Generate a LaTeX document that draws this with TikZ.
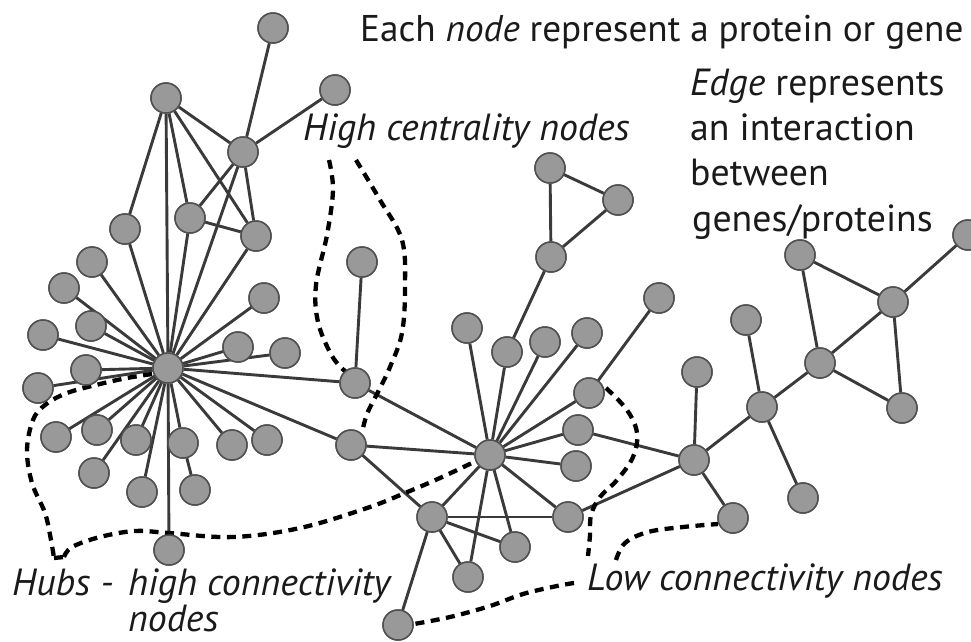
\documentclass[tikz,border=0pt]{standalone}
\usepackage{fontspec}
\setmainfont{PT Sans}
\definecolor{nodefill}{HTML}{999999}
\definecolor{nodeline}{HTML}{505050}
\definecolor{linkcol}{HTML}{3A3A3A}
\definecolor{txtcol}{HTML}{1A1A1A}
\tikzset{
  vtx/.style={circle, draw=nodeline, fill=nodefill, line width=1.5pt,
              minimum size=30pt, inner sep=0pt},
  link/.style={draw=linkcol, line width=2.9pt},
  outline/.style={draw=black, line width=4.3pt, dash pattern=on 9pt off 6.5pt,
                  line cap=butt},
  lbl/.style={anchor=base west, inner sep=0pt, text=txtcol,
              font=\fontsize{37.8}{44}\selectfont}
}
\begin{document}
\begin{tikzpicture}[x=1pt,y=-1pt]
\useasboundingbox (0,0) rectangle (971,641);
\clip (0,0) rectangle (971,641);
\fill[white] (0,0) rectangle (971,641);

% ---- vertices: first hub and its neighbourhood
\node[vtx] (h1) at (168,368) {};
\node[vtx] (t1) at (273,28) {};
\node[vtx] (a)  at (166,98) {};
\node[vtx] (b)  at (335,90) {};
\node[vtx] (c)  at (243,152) {};
\node[vtx] (d)  at (125,229) {};
\node[vtx] (e)  at (190,218) {};
\node[vtx] (f)  at (256,236) {};
\node[vtx] (g1) at (92,262) {};
\node[vtx] (i1) at (64,288) {};
\node[vtx] (j)  at (264,298) {};
\node[vtx] (l1) at (91,326) {};
\node[vtx] (l2) at (43,335) {};
\node[vtx] (l3) at (86,370) {};
\node[vtx] (l4) at (38,388) {};
\node[vtx] (r1) at (238,347) {};
\node[vtx] (r2) at (285,353) {};
\node[vtx] (b1) at (56,437) {};
\node[vtx] (b2) at (97,430) {};
\node[vtx] (b3) at (136,440) {};
\node[vtx] (b4) at (183,443) {};
\node[vtx] (b5) at (232,445) {};
\node[vtx] (b6) at (267,440) {};
\node[vtx] (b7) at (94,473) {};
\node[vtx] (b8) at (142,492) {};
\node[vtx] (b9) at (195,490) {};
\node[vtx] (b10) at (169,550) {};

% ---- bridge vertices
\node[vtx] (k)   at (362,262) {};
\node[vtx] (hc1) at (355,383) {};
\node[vtx] (hc2) at (351,445) {};

% ---- second hub and its neighbourhood
\node[vtx] (h2)  at (490,455) {};
\node[vtx] (u1)  at (467,328) {};
\node[vtx] (u2)  at (507,352) {};
\node[vtx] (u3)  at (545,342) {};
\node[vtx] (u4)  at (587,333) {};
\node[vtx] (u5)  at (589,393) {};
\node[vtx] (u6)  at (578,430) {};
\node[vtx] (u7)  at (576,466) {};
\node[vtx] (u8)  at (568,517) {};
\node[vtx] (u9)  at (515,547) {};
\node[vtx] (u10) at (468,577) {};
\node[vtx] (m1)  at (432,517) {};
\node[vtx] (v)   at (398,625) {};
\node[vtx] (tr1) at (550,168) {};
\node[vtx] (tr2) at (618,200) {};
\node[vtx] (tr3) at (551,257) {};
\node[vtx] (w)   at (659,298) {};

% ---- right-hand branch
\node[vtx] (mm) at (694,460) {};
\node[vtx] (m2) at (697,372) {};
\node[vtx] (m3) at (733,518) {};
\node[vtx] (nn) at (762,407) {};
\node[vtx] (n1) at (746,320) {};
\node[vtx] (n2) at (803,498) {};
\node[vtx] (pp) at (820,363) {};
\node[vtx] (p1) at (800,255) {};
\node[vtx] (qq) at (893,302) {};
\node[vtx] (q1) at (968,235) {};
\node[vtx] (q2) at (902,408) {};

% ---- interactions
\foreach \s/\t in {h1/a,h1/c,h1/d,h1/e,h1/f,h1/g1,h1/i1,h1/j,h1/l1,h1/l2,h1/l3,h1/l4,
                   h1/r1,h1/r2,h1/b1,h1/b2,h1/b3,h1/b4,h1/b5,h1/b6,h1/b7,h1/b8,h1/b10,
                   h1/hc1,h1/hc2,b4/b9,
                   a/d,a/e,a/f,a/c,c/t1,c/b,c/e,c/f,e/f,
                   hc1/k,hc1/h2,hc2/h2,hc2/m1,
                   h2/u1,h2/u2,h2/u3,h2/u4,h2/u5,h2/u6,h2/u7,h2/u8,h2/u9,h2/u10,h2/m1,
                   m1/u8,m1/u9,m1/u10,m1/v,u2/tr3,u5/w,u6/mm,u8/mm,
                   tr1/tr2,tr1/tr3,tr2/tr3,
                   mm/m2,mm/m3,mm/nn,nn/n1,nn/n2,nn/pp,pp/p1,pp/qq,pp/q2,p1/qq,qq/q2,qq/q1}
  \draw[link] (\s) -- (\t);

% ---- dashed outlines of the marked groups
\draw[outline] plot[smooth, tension=0.6] coordinates
  {(329,160) (333,190) (327,235) (316,285) (318,322) (332,356) (346,372)};
\draw[outline] plot[smooth, tension=0.6] coordinates
  {(356,160) (380,200) (402,240) (405,287) (402,333) (390,367) (378,392) (367,414) (362,433)};
\draw[outline] plot[smooth, tension=0.6] coordinates
  {(152,374) (127,378) (100,384) (67,393) (45,405) (33,420) (27,450) (32,483) (45,513) (51,540) (54,558)};
\draw[outline] (54,558) -- (64,557);
\draw[outline] plot[smooth, tension=0.6] coordinates
  {(64,557) (72,547) (100,537) (135,531) (169,533) (233,537) (300,528) (367,508) (405,493) (440,478) (476,461)};
\draw[outline] plot[smooth, tension=0.6] coordinates
  {(606,388) (627,410) (637,433) (633,457) (617,480) (600,497) (591,515) (590,535) (588,556)};
\draw[outline] plot[smooth, tension=0.6] coordinates
  {(616,560) (625,543) (648,532) (683,527) (718,524)};
\draw[outline] plot[smooth, tension=0.6] coordinates
  {(574,583) (557,586) (523,594) (490,606) (450,617) (414,624)};

% vertices drawn again on top of links and outlines
\foreach \n in {h1,t1,a,b,c,d,e,f,g1,i1,j,l1,l2,l3,l4,r1,r2,b1,b2,b3,b4,b5,b6,b7,b8,b9,b10,
                k,hc1,hc2,h2,u1,u2,u3,u4,u5,u6,u7,u8,u9,u10,m1,v,tr1,tr2,tr3,w,
                mm,m2,m3,nn,n1,n2,pp,p1,qq,q1,q2}
  \node[vtx] at (\n.center) {};

% ---- labels
\node[lbl, font=\fontsize{37.2}{44}\selectfont] (ttop) at (360,41)
  {Each \textit{node} represent a protein or gene};
\node[lbl] (te1) at (690,95) {\textit{Edge} represents};
\node[lbl] (te2) at (690,140) {an interaction};
\node[lbl] (te3) at (690,185) {between};
\node[lbl] (te4) at (692,231) {genes/proteins};
\node[lbl] (thc) at (303,140) {\textit{High centrality nodes}};
\node[lbl] (thub) at (12,595) {\textit{Hubs -}};
\node[lbl] (thi) at (128,595) {\textit{high connectivity}};
\node[lbl] (tno) at (128,631) {\textit{nodes}};
\node[lbl] (tlow) at (587,590) {\textit{Low connectivity nodes}};
\end{tikzpicture}
\end{document}
